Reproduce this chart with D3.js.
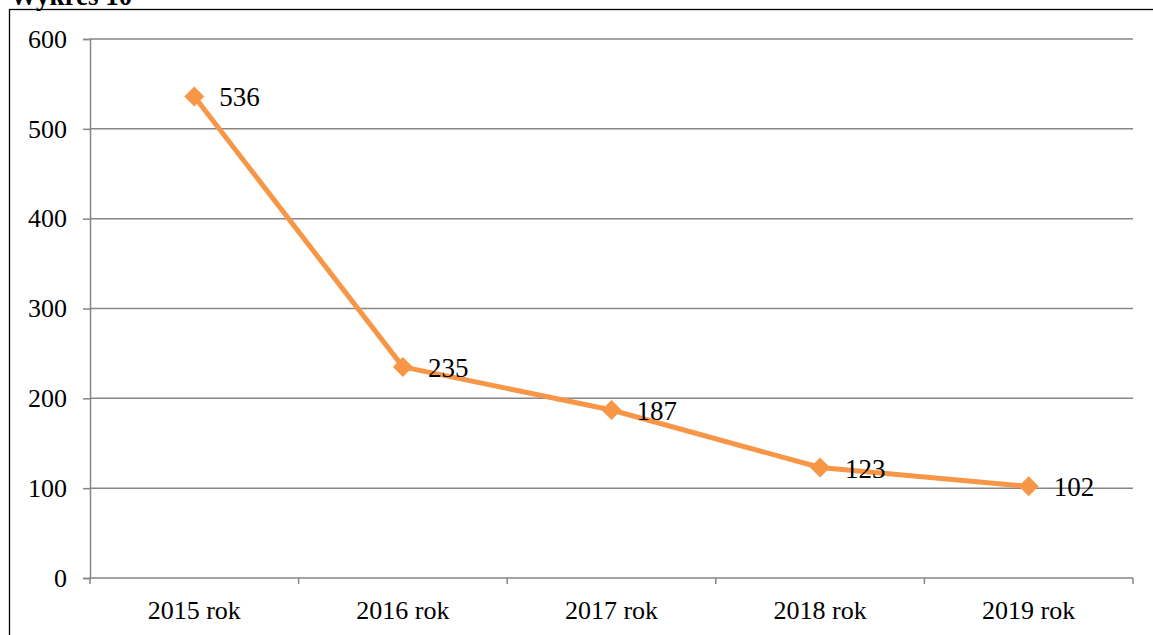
<!DOCTYPE html>
<html>
<head>
<meta charset="utf-8">
<script src="https://cdn.jsdelivr.net/npm/d3@7"></script>
<style>
  body { margin: 0; background: #fff; }
  svg { display: block; font-family: "Liberation Serif", "Times New Roman", serif; }
</style>
</head>
<body>
<svg width="1153" height="635"></svg>
<script>
var categories = ["2015 rok", "2016 rok", "2017 rok", "2018 rok", "2019 rok"],
    values = [536, 235, 187, 123, 102],
    yTicks = [0, 100, 200, 300, 400, 500, 600];

var svg = d3.select("svg"),
    plot_left = 90, plot_right = 1133, plot_top = 39, plot_bottom = 578,
    grid_clr = "#868686", line_clr = "#F79646";

// title, cut by the top edge as in the source
svg.append("text")
  .attr("x", 10).attr("y", 5)
  .style("font-size", "27px").style("font-weight", "bold")
  .text("Wykres 10");

// frame
svg.append("rect")
  .attr("x", 9.5).attr("y", 9.5).attr("width", 1160).attr("height", 640)
  .style("fill", "none").style("stroke", "#000").style("stroke-width", 1.3);

var xScale = d3.scaleBand().domain(categories).range([plot_left, plot_right]),
    yScale = d3.scaleLinear().domain([0, 600]).range([plot_bottom, plot_top]);

// gridlines
svg.append("g").selectAll("line").data(yTicks.filter(d => d > 0)).enter().append("line")
  .attr("x1", plot_left).attr("x2", plot_right)
  .attr("y1", d => yScale(d)).attr("y2", d => yScale(d))
  .style("stroke", grid_clr).style("stroke-width", 1.5);

// y axis
var yAxis = svg.append("g").attr("transform", "translate(" + plot_left + ",0)")
  .call(d3.axisLeft(yScale).tickValues(yTicks).tickSize(7).tickPadding(16));
yAxis.attr("font-family", null).attr("font-size", null);
yAxis.select(".domain").style("stroke", grid_clr).style("stroke-width", 1.5);
yAxis.selectAll("line").style("stroke", grid_clr).style("stroke-width", 1.5);
yAxis.selectAll("text").style("font-size", "26px").style("fill", "#000");

// x axis: ticks on band edges
var xAxis = svg.append("g").attr("transform", "translate(0," + plot_bottom + ")");
xAxis.append("line").attr("x1", plot_left).attr("x2", plot_right)
  .style("stroke", grid_clr).style("stroke-width", 1.5);
var edges = categories.map(d => xScale(d)).concat([plot_right]);
xAxis.selectAll(".edge").data(edges).enter().append("line")
  .attr("x1", d => d).attr("x2", d => d).attr("y1", 0).attr("y2", 6)
  .style("stroke", grid_clr).style("stroke-width", 1.5);
xAxis.selectAll(".lbl").data(categories).enter().append("text")
  .attr("x", d => xScale(d) + xScale.bandwidth() / 2).attr("y", 41)
  .attr("text-anchor", "middle").style("font-size", "26px")
  .text(d => d);

var cx = i => xScale(categories[i]) + xScale.bandwidth() / 2;

// series line
var line = d3.line().x((d, i) => cx(i)).y(d => yScale(d));
svg.append("path").datum(values).attr("d", line)
  .style("fill", "none").style("stroke", line_clr).style("stroke-width", 5)
  .style("stroke-linejoin", "round");

// diamonds
svg.selectAll(".mk").data(values).enter().append("path")
  .attr("transform", (d, i) => "translate(" + cx(i) + "," + yScale(d) + ")")
  .attr("d", "M0,-10L10,0L0,10L-10,0Z")
  .style("fill", line_clr);

// labels
svg.selectAll(".val").data(values).enter().append("text")
  .attr("x", (d, i) => cx(i) + 25).attr("y", d => yScale(d) + 10)
  .style("font-size", "27px")
  .text(d => d);
</script>
</body>
</html>
